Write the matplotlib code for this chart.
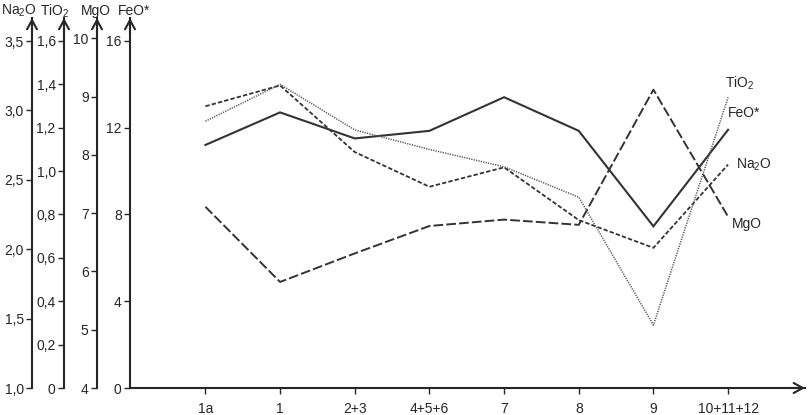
import matplotlib
matplotlib.use("Agg")
import matplotlib.pyplot as plt

plt.rcParams["font.family"] = ["Liberation Sans", "DejaVu Sans"]
plt.rcParams["mathtext.default"] = "regular"

# Data
categories = ["1a", "1", "2+3", "4+5+6", "7", "8", "9", "10+11+12"]
feo = [11.2, 12.7, 11.5, 11.85, 13.4, 11.85, 7.45, 11.9]
na2o = [3.03, 3.18, 2.70, 2.45, 2.59, 2.21, 2.01, 2.61]
tio2 = [1.23, 1.40, 1.19, 1.10, 1.02, 0.88, 0.29, 1.34]
mgo = [7.11, 5.82, 6.31, 6.78, 6.89, 6.80, 9.12, 6.94]

na2o_ticks = [1.0, 1.5, 2.0, 2.5, 3.0, 3.5]
tio2_ticks = [0, 0.2, 0.4, 0.6, 0.8, 1.0, 1.2, 1.4, 1.6]
mgo_ticks = [4, 5, 6, 7, 8, 9, 10]
feo_ticks = [0, 4, 8, 12, 16]

W, H = 809, 415
X0, X1 = 130, 805     # pixel extent of the x axis
Y0, Y1 = 388, 18      # pixel extent of the y axes (bottom, arrow tip)
INK = "#262626"
LINE = "#333333"

fig = plt.figure(figsize=(W / 100, H / 100), dpi=100)
ax = fig.add_axes([X0 / W, (H - Y0) / H, (X1 - X0) / W, (Y0 - Y1) / H])
ax.patch.set_alpha(0)


def fmt(v, dec):
    if v == 0:
        return "0"
    return f"{v:.{dec}f}".replace(".", ",")


def style_axis(a, ticks, dec):
    a.set_yticks(ticks)
    a.set_yticklabels([fmt(t, dec) for t in ticks])
    a.tick_params(axis="y", direction="out", length=4, width=1, colors=INK,
                  labelsize=10, pad=2, left=True, right=False,
                  labelleft=True, labelright=False)
    for s in ("top", "right", "bottom"):
        a.spines[s].set_visible(False)
    a.spines["left"].set_color(INK)
    a.spines["left"].set_linewidth(1.5)


x = list(range(len(categories)))
ax.set_xlim(-1.01, 8.03)
ax.set_ylim(0, 17.05)
style_axis(ax, feo_ticks, 0)
ax.spines["bottom"].set_visible(True)
ax.spines["bottom"].set_color(INK)
ax.spines["bottom"].set_linewidth(1.5)
ax.set_xticks(x)
ax.set_xticklabels(categories)
ax.tick_params(axis="x", direction="out", length=4, width=1, colors=INK,
               labelsize=10, pad=6)

# extra y axes on the left
axes_spec = [
    ("na2o", 32, (1.0, 3.666), na2o_ticks, 1),
    ("tio2", 64, (0, 1.706), tio2_ticks, 1),
    ("mgo", 97, (4, 10.35), mgo_ticks, 0),
]
twins = {}
for name, px, lim, ticks, dec in axes_spec:
    t = ax.twinx()
    t.set_ylim(*lim)
    t.yaxis.set_ticks_position("left")
    t.spines["left"].set_visible(True)
    t.spines["left"].set_position(("axes", (px - X0) / (X1 - X0)))
    style_axis(t, ticks, dec)
    twins[name] = t

# series
ax.plot(x, feo, color=LINE, lw=1.5, solid_joinstyle="miter")
twins["na2o"].plot(x, na2o, color=LINE, lw=1.3, dashes=(2.4, 1.2))
twins["tio2"].plot(x, tio2, color="#555555", lw=1.1, dashes=(0.8, 0.8))
twins["mgo"].plot(x, mgo, color=LINE, lw=1.4, dashes=(5, 1.6))

# series labels at the line ends
lab = dict(fontsize=10, color=INK, textcoords="offset points", va="center")
ax.annotate("FeO*", (x[-1], feo[-1]), xytext=(0, 12), ha="left", **lab)
twins["tio2"].annotate("TiO$_2$", (x[-1], tio2[-1]), xytext=(-2, 10), ha="left", **lab)
twins["na2o"].annotate("Na$_2$O", (x[-1], na2o[-1]), xytext=(6, 0), ha="left", **lab)
twins["mgo"].annotate("MgO", (x[-1], mgo[-1]), xytext=(3, -5), ha="left", **lab)

# arrow heads
arrow = dict(arrowstyle="->,head_length=0.55,head_width=0.3", lw=1.5,
             color=INK, shrinkA=0, shrinkB=0, mutation_scale=12)
for px in (32, 64, 97, X0):
    fig.add_artist(matplotlib.patches.FancyArrowPatch(
        (px, H - Y1 - 15), (px, H - Y1), transform=None, **arrow))
fig.add_artist(matplotlib.patches.FancyArrowPatch(
    (X1 - 15, H - Y0), (X1, H - Y0), transform=None, **arrow))

# axis titles
titles = [("Na$_2$O", 1, "left"), ("TiO$_2$", 55, "center"),
          ("MgO", 96, "center"), ("FeO*", 134, "center")]
for txt, px, ha in titles:
    fig.text(px / W, 1 - 11 / H, txt, ha=ha, va="center",
             fontsize=10, color=INK)

fig.savefig("out.png", dpi=100)
